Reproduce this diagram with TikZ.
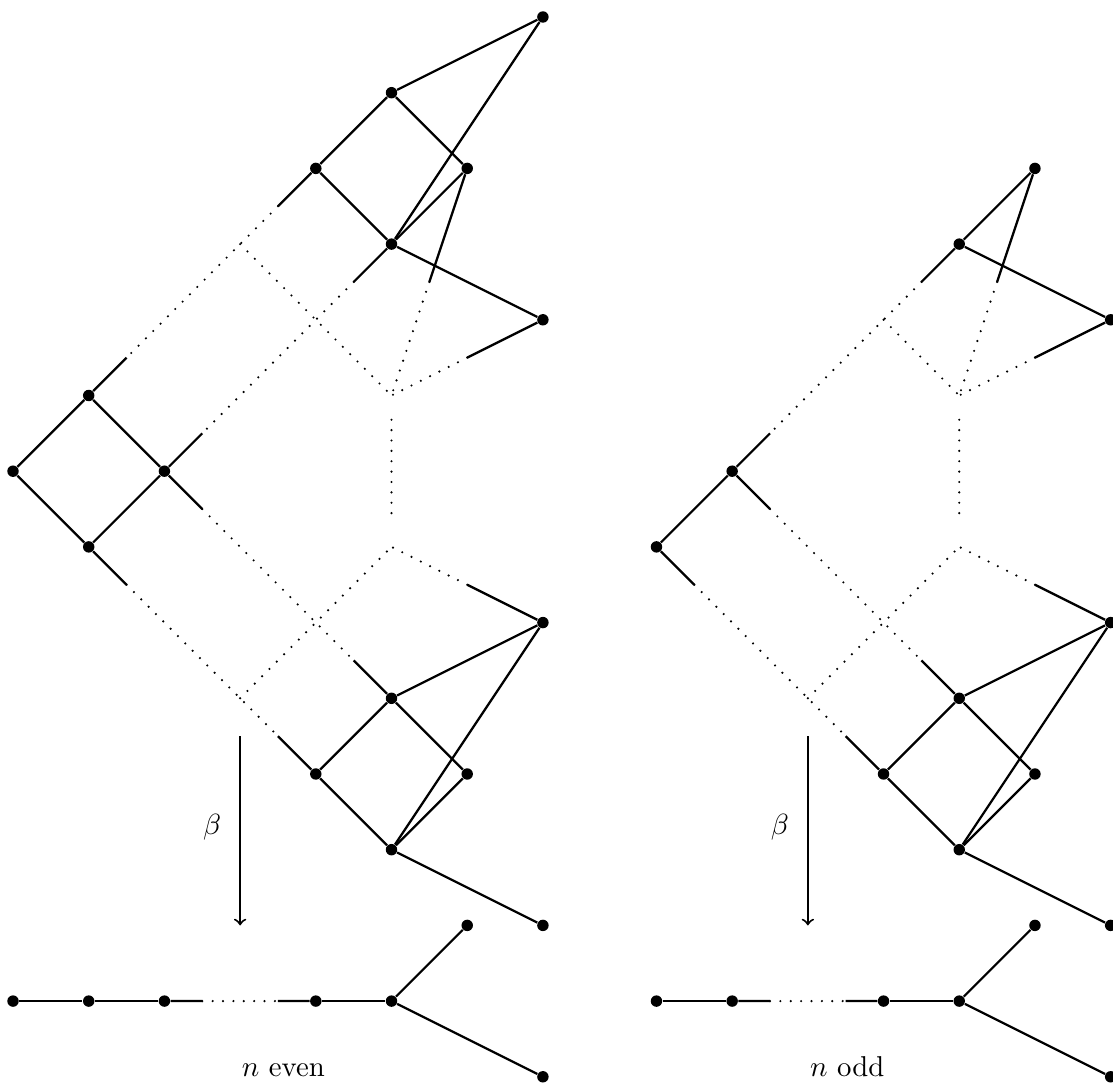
\documentclass[tikz,border=0pt]{standalone}
\usetikzlibrary{calc}
\tikzset{
  vtx/.style={circle,fill=black,inner sep=0pt,minimum size=4.3pt},
  edge/.style={line width=0.85pt},
  dotline/.style={line width=0.9pt,line cap=round,dash pattern=on 0pt off 3.9pt},
  maparrow/.style={line width=0.75pt,->},
  lbl/.style={font=\fontsize{10.8}{13}\selectfont,inner sep=0pt}
}
\newcommand{\brkline}[3]{%
  \draw[edge] (#1) -- ($(#1)!#3!(#2)$);
  \draw[dotline] ($(#1)!#3!(#2)$) -- ($(#2)!#3!(#1)$);
  \draw[edge] ($(#2)!#3!(#1)$) -- (#2);}
\newcommand{\halfline}[2]{%
  \draw[edge] (#1) -- ($(#1)!0.5!(#2)$);
  \draw[dotline] ($(#1)!0.5!(#2)$) -- (#2);}
\begin{document}
\begin{tikzpicture}
\useasboundingbox (-0.172,0.2246) rectangle (14.531,-14.082);
% ---------- left: n even ----------
\node[vtx] (La) at (7,0) {};
\node[vtx] (Lb) at (5,-1) {};
\node[vtx] (Lc) at (4,-2) {};
\node[vtx] (Ld) at (6,-2) {};
\node[vtx] (Le) at (5,-3) {};
\node[vtx] (Lf) at (7,-4) {};
\node[vtx] (Lg) at (1,-5) {};
\node[vtx] (Lh) at (0,-6) {};
\node[vtx] (Li) at (2,-6) {};
\node[vtx] (Lj) at (1,-7) {};
\node[vtx] (Lk) at (7,-8) {};
\node[vtx] (Ll) at (5,-9) {};
\node[vtx] (Lm) at (4,-10) {};
\node[vtx] (Ln) at (6,-10) {};
\node[vtx] (Lo) at (5,-11) {};
\node[vtx] (Lp) at (7,-12) {};
\coordinate (LJ1) at (5,-5);
\coordinate (LJ2) at (5,-7);
\coordinate (LC1) at (3,-3);
\coordinate (LC2) at (3,-9);
\node[vtx] (Lq0) at (0,-13) {};
\node[vtx] (Lq1) at (1,-13) {};
\node[vtx] (Lq2) at (2,-13) {};
\node[vtx] (Lq3) at (4,-13) {};
\node[vtx] (Lq4) at (5,-13) {};
\node[vtx] (Lq5) at (6,-12) {};
\node[vtx] (Lq6) at (7,-14) {};
\coordinate (LA1) at (3,-9.5);
\coordinate (LA2) at (3,-12);
\node[lbl] (Lbeta) at (2.63,-10.7) {$\beta$};
\node[lbl,anchor=base] (Ltxt) at (3.57,-13.99) {$n$ even};

\draw[edge] (La) -- (Lb);
\draw[edge] (La) -- (Le);
\draw[edge] (Lb) -- (Lc);
\draw[edge] (Lb) -- (Ld);
\draw[edge] (Lc) -- (Le);
\draw[edge] (Ld) -- (Le);
\draw[edge] (Le) -- (Lf);
\brkline{Lc}{Lg}{0.16667}
\brkline{Le}{Li}{0.16667}
\halfline{Ld}{LJ1}
\halfline{Lf}{LJ1}
\draw[dotline] (LC1) -- (LJ1);
\draw[dotline] ($(LJ1)!0.16!(LJ2)$) -- ($(LJ1)!0.84!(LJ2)$);
\draw[dotline] (LC2) -- (LJ2);
\halfline{Lk}{LJ2}
\draw[edge] (Lg) -- (Lh);
\draw[edge] (Lg) -- (Li);
\draw[edge] (Lh) -- (Lj);
\draw[edge] (Li) -- (Lj);
\brkline{Li}{Ll}{0.16667}
\brkline{Lj}{Lm}{0.16667}
\draw[edge] (Lk) -- (Ll);
\draw[edge] (Lk) -- (Lo);
\draw[edge] (Ll) -- (Lm);
\draw[edge] (Ll) -- (Ln);
\draw[edge] (Lm) -- (Lo);
\draw[edge] (Ln) -- (Lo);
\draw[edge] (Lo) -- (Lp);
\draw[edge] (Lq0) -- (Lq1);
\draw[edge] (Lq1) -- (Lq2);
\brkline{Lq2}{Lq3}{0.25}
\draw[edge] (Lq3) -- (Lq4);
\draw[edge] (Lq4) -- (Lq5);
\draw[edge] (Lq4) -- (Lq6);
\draw[maparrow] (LA1) -- (LA2);

% ---------- right: n odd ----------
\node[vtx] (Ra) at (13.5,-2) {};
\node[vtx] (Rb) at (12.5,-3) {};
\node[vtx] (Rc) at (14.5,-4) {};
\node[vtx] (Rg) at (9.5,-6) {};
\node[vtx] (Rh) at (8.5,-7) {};
\node[vtx] (Rk) at (14.5,-8) {};
\node[vtx] (Rl) at (12.5,-9) {};
\node[vtx] (Rm) at (11.5,-10) {};
\node[vtx] (Rn) at (13.5,-10) {};
\node[vtx] (Ro) at (12.5,-11) {};
\node[vtx] (Rp) at (14.5,-12) {};
\coordinate (RJ1) at (12.5,-5);
\coordinate (RJ2) at (12.5,-7);
\coordinate (RC1) at (11.5,-4);
\coordinate (RC2) at (10.5,-9);
\node[vtx] (Rq0) at (8.5,-13) {};
\node[vtx] (Rq1) at (9.5,-13) {};
\node[vtx] (Rq2) at (11.5,-13) {};
\node[vtx] (Rq3) at (12.5,-13) {};
\node[vtx] (Rq4) at (13.5,-12) {};
\node[vtx] (Rq5) at (14.5,-14) {};
\coordinate (RA1) at (10.5,-9.5);
\coordinate (RA2) at (10.5,-12);
\node[lbl] (Rbeta) at (10.13,-10.7) {$\beta$};
\node[lbl,anchor=base] (Rtxt) at (11.02,-13.99) {$n$ odd};

\draw[edge] (Ra) -- (Rb);
\halfline{Ra}{RJ1}
\draw[edge] (Rb) -- (Rc);
\halfline{Rc}{RJ1}
\brkline{Rb}{Rg}{0.16667}
\draw[dotline] (RC1) -- (RJ1);
\draw[dotline] ($(RJ1)!0.16!(RJ2)$) -- ($(RJ1)!0.84!(RJ2)$);
\draw[edge] (Rg) -- (Rh);
\brkline{Rg}{Rl}{0.16667}
\brkline{Rh}{Rm}{0.16667}
\draw[dotline] (RC2) -- (RJ2);
\halfline{Rk}{RJ2}
\draw[edge] (Rk) -- (Rl);
\draw[edge] (Rk) -- (Ro);
\draw[edge] (Rl) -- (Rm);
\draw[edge] (Rl) -- (Rn);
\draw[edge] (Rm) -- (Ro);
\draw[edge] (Rn) -- (Ro);
\draw[edge] (Ro) -- (Rp);
\draw[edge] (Rq0) -- (Rq1);
\brkline{Rq1}{Rq2}{0.25}
\draw[edge] (Rq2) -- (Rq3);
\draw[edge] (Rq3) -- (Rq4);
\draw[edge] (Rq3) -- (Rq5);
\draw[maparrow] (RA1) -- (RA2);
\end{tikzpicture}
\end{document}
